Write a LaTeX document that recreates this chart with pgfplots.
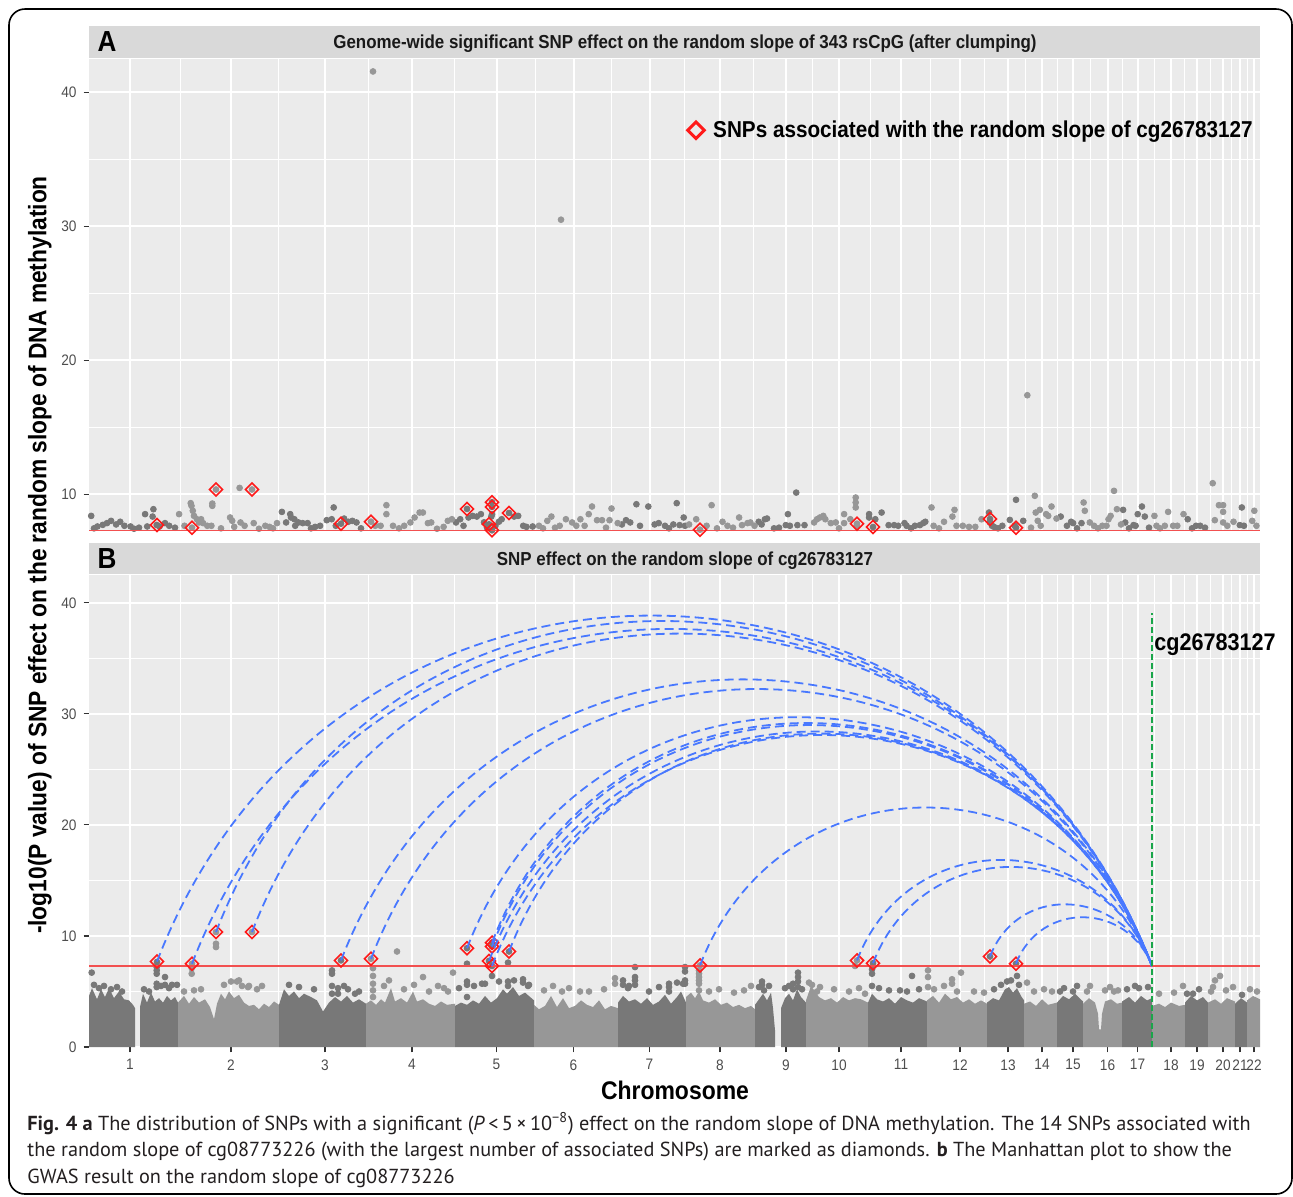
\documentclass[border=0pt]{standalone}
\usepackage{pgfplots}
\pgfplotsset{compat=1.18}
\usepackage{pgfplotstable}
\usepackage{fontspec}
\setmainfont{Liberation Sans}[FakeStretch=0.9]
\newfontfamily\capfont{PT Sans}

\definecolor{panelbg}{HTML}{EBEBEB}
\definecolor{stripbg}{HTML}{D9D9D9}
\definecolor{darkpt}{HTML}{787878}
\definecolor{lightpt}{HTML}{979797}
\definecolor{arcblue}{HTML}{4878FF}
\definecolor{vgreen}{HTML}{1AA64A}
\definecolor{hred}{HTML}{F25050}
\definecolor{dred}{HTML}{FF1A1A}
\definecolor{ticktxt}{HTML}{4D4D4D}
\definecolor{tickcol}{HTML}{333333}
\definecolor{capcol}{HTML}{231F20}

% x = position along the genome (same scale as the panels), y = -log10(P)
% SNPs linked to cg26783127 (diamonds)
\pgfplotstableread{
x y
68 7.7
103 7.5
127 10.35
163 10.35
252 7.8
282 7.95
378 8.9
400 7.75
403 9.4
403 9.05
403 7.3
420 8.6
611 7.35
768 7.8
784 7.55
901 8.15
927 7.5
}\snps

% panel A, odd chromosomes
\pgfplotstableread{
x y
2.2 8.38
5 7.45
8.4 7.59
13.8 7.71
18 7.84
22.1 8.01
27.1 7.74
31.2 7.94
35.4 7.64
41.6 7.59
45 7.42
50 7.5
56.1 8.51
58.2 7.59
63.6 8.33
64.4 8.88
67.7 7.70
70.6 7.59
76 7.84
80.2 7.64
86 7.5
192.9 8.68
197.1 7.89
201.2 8.51
202 8.26
205.4 8.13
206.2 7.64
209.5 7.89
213.7 7.84
218.6 7.84
222 7.45
226.1 7.56
231.1 7.64
237.7 8.06
242.7 8.13
244.7 9.01
246.8 7.64
252 7.8
255.1 8.18
259.3 7.94
263.4 8.01
267.5 7.89
272 7.45
367 7.89
371.2 8.13
374.5 7.64
378 8.9
379.5 8.26
383.6 8.38
387.8 8.33
391.9 8.51
395 7.9
398 7.5
400 7.75
402.3 8.33
403 9.4
403 9.05
403 7.3
403 8.5
406.4 7.64
410 7.95
412.7 8.13
420 8.6
425.1 8.33
429.2 8.38
434.2 7.64
437.5 7.56
443.7 7.59
532.9 7.74
537 8.06
541.2 7.89
547.4 9.25
551 7.64
559.3 9.08
565.6 7.74
569.7 7.84
576 7.64
580 7.45
584.3 7.74
587.7 9.33
590.6 7.69
594.7 8.26
596 7.64
669.7 7.94
672.6 7.74
675.9 8.13
678 8.18
685 7.45
690 7.5
696.8 7.69
698.9 8.51
700.9 7.64
707.2 10.12
708.4 7.69
715.5 7.69
780.1 8.51
780.1 8.26
784 7.55
786.3 8.13
792.6 8.63
799.6 7.69
805.1 7.69
809.2 7.64
815.5 7.84
817.6 7.64
822 7.45
825.9 7.64
830.9 7.69
834.2 7.84
836.3 7.94
900 8.63
900.9 7.89
901 8.15
903 7.64
905 7.56
909 7.45
913.3 7.64
920.8 8.08
925.8 7.64
927 9.58
927 7.5
934.2 8.01
971.7 8.33
977.9 7.64
982.1 7.94
984.1 7.84
988 7.45
992.5 7.84
1034.1 8.83
1036.2 7.89
1040 7.45
1044.5 7.69
1046.6 7.64
1048.7 8.51
1052.9 9.08
1055.8 8.33
1060 7.5
1098.7 8.13
1103 7.45
1107 7.64
1111.2 7.64
1116 7.5
1150.8 7.69
1152.8 9.01
1154.9 7.64
}\adark

% panel A, even chromosomes
\pgfplotstableread{
x y
90.1 8.51
95.5 7.64
101.7 9.33
102.5 9.13
103 7.5
103.8 8.76
105 8.38
107.9 8.13
110 7.89
112.1 8.13
114.1 7.84
118.3 7.64
122.4 7.64
123.3 9.13
123.3 9.30
127 10.35
132 7.45
141.1 8.26
143.2 8.01
145.2 7.56
150.6 10.47
151.5 7.89
155.6 7.64
163 10.35
164.7 7.84
170 7.42
176.3 7.64
180.5 7.56
184 7.45
188 7.84
282 7.95
284 41.57
286.2 7.64
291.6 7.64
297.4 9.18
297.4 8.51
304 7.64
310 7.45
315.2 7.64
321.4 7.89
325.6 8.26
330.6 8.63
333.9 8.63
338.9 7.84
342.2 7.89
348 7.42
354.6 7.56
358.8 8.01
362.9 8.13
450 7.64
454 7.45
458.3 8.01
462.4 8.33
466 7.5
470.7 7.64
472 30.5
476.9 8.13
483.1 7.89
487.3 7.64
491.4 8.13
495.6 7.64
499.7 8.51
503 9.08
508 8.06
513 8.06
517 7.5
520.5 8.06
522.5 8.93
528.7 7.84
600.1 7.74
607.2 8.13
611 7.35
617.6 7.64
622.6 9.18
628 7.45
633.5 7.94
638.5 7.64
644 7.5
650.1 8.26
653 7.69
658.5 7.84
661.4 7.89
665.5 7.64
725.1 7.89
728 8.13
730.9 8.26
734.3 8.38
736.3 8.13
741.8 7.84
746.8 7.89
750 7.45
755.1 8.51
755.1 7.84
761.3 8.13
766.7 9.75
766.7 9.38
766.7 9.01
767.6 7.64
768 7.8
842.5 9.01
844.6 7.64
850 7.45
855 7.94
863.4 8.33
865.5 8.83
867.5 7.64
873.8 7.64
880 7.56
886.3 7.56
892.5 8.13
938.3 17.39
942 7.5
945.8 9.88
946.7 8.63
948.7 8.01
950.8 8.83
951.7 7.64
957.1 8.51
959.2 8.38
962.5 9.08
967.5 8.18
994.6 9.38
995.8 8.76
1000.8 7.89
1005 7.64
1009 7.45
1013.3 7.64
1017.5 7.64
1019.5 8.13
1021.6 8.38
1025 10.25
1027.9 8.88
1032 7.74
1065.4 8.38
1067.5 7.64
1071 7.45
1075.8 7.64
1079.1 8.68
1084.1 7.64
1088.3 7.64
1094.5 8.51
1123.7 10.82
1125.8 8.06
1129.9 9.18
1134.1 9.18
1134.1 8.68
1134.1 7.89
1138.3 7.64
1144.5 7.94
1163.2 8.01
1165.3 8.76
1167.4 7.64
}\alight

% panel B, points standing above the bulk, odd chromosomes
\pgfplotstableread{
x y
2.7 6.7
5 5.6
10 5.3
15 5.5
22 5.2
28 5.4
33 5.0
55 5.2
60 5.0
67.7 7.2
67.7 6.9
67.7 6.6
67.7 5.7
67.7 5.4
68 7.66
72 5.5
76 6.3
76 5.6
80 5.3
83 5.6
88 5.6
200 5.6
210 5.4
225 5.2
243 6.9
243 6.6
243 5.5
243 4.8
249 5.3
249 4.8
252 7.8
255 5.5
259 5.2
266 4.8
270 5.0
370 5.3
378 8.9
378 7.5
378 5.9
378 5.6
378 4.5
385 5.5
393 5.7
396 5.7
400 7.75
403 9.4
403 9.05
403 7.3
403 6.4
410 5.9
419 7.6
419 5.9
419 5.5
420 8.6
425 6.0
434 6.1
434 5.8
439 5.5
440 5.6
534 6.0
534 5.6
539 5.3
540 5.5
546 7.2
546 6.3
546 6.0
546 5.6
560 5.0
570 5.4
580 5.7
580 5.4
580 5.0
588 5.8
594 5.7
596 7.2
596 6.8
596 6.0
596 5.7
670 5.4
673 5.9
673 5.6
675 5.1
680 5.5
696 5.3
700 5.5
704 5.7
704 5.2
709 6.7
709 6.3
709 5.9
709 5.4
713 5.2
783 7.0
783 6.6
783 5.5
784 7.55
790 5.3
800 5.1
811 5.1
818 5.0
823 6.4
830 5.2
901 8.15
905 5.2
912 5.6
918 5.9
922 6.0
927 7.5
928 6.4
930 5.6
971 5.0
975 5.3
984 5.0
988 5.5
1038 5.2
1046 5.5
1050 5.3
1059 5.4
1098 4.8
1104 4.8
1110 5.2
1153 4.7
}\bdark

% panel B, points standing above the bulk, even chromosomes
\pgfplotstableread{
x y
95 5.0
102.7 7.1
102.7 6.6
103 7.5
105 5.1
112 5.2
127 10.35
127 9.3
127 9.0
135 5.6
142 5.9
148 5.9
150 6.0
153 5.5
159 5.4
160 5.5
163 10.35
168 5.2
173 5.5
282 7.95
284 7.1
284 6.4
284 5.7
284 5.1
284 4.5
295 5.5
300 6.0
308 8.6
315 5.2
325 5.6
334 6.3
340 5.0
349 5.5
355 5.3
359 5.0
364 6.7
455 5.1
464 5.5
473 5.0
480 5.3
491 5.0
500 5.0
515 5.2
526 6.2
526 5.7
610 6.9
610 6.6
610 6.3
610 6.0
610 5.7
610 5.1
611 7.35
620 5.0
630 5.2
645 4.9
655 5.1
662 5.5
720 5.8
723 5.6
728 5.0
731 5.4
745 5.2
760 5.0
766 7.3
768 7.8
770 5.3
776 4.8
839 6.9
839 6.3
839 5.4
845 5.2
855 5.5
863 6.1
863 5.7
868 5.0
872 6.7
885 5.0
895 4.9
938 5.8
945 5.0
955 5.2
963 5.0
998 5.0
1001 5.5
1016 5.1
1021 5.4
1025 5.0
1029 5.1
1070 4.8
1085 4.9
1094 5.5
1122 5.0
1124 5.4
1126 6.0
1131 6.4
1137 5.1
1144 5.4
1161 5.2
1168 5.0
}\blight

\pgfplotstablegetrowsof{\snps}
\pgfmathtruncatemacro\nsnp{\pgfplotsretval-1}
\def\tx{1063}
\def\ty{7.3}

\pgfplotsset{
  panel/.style={
    scale only axis, width=585.5pt, height=236pt,
    xmin=0, xmax=1171,
    axis background/.style={fill=panelbg},
    axis line style={draw=none},
    grid=both,
    major grid style={white, line width=1pt},
    minor grid style={white, line width=0.5pt},
    xtick={41,142,236,323,407.5,484.5,560.5,631,697,750,812,871,919,953,984,1018.5,1048.5,1082,1108,1134,1151,1165},
    minor xtick={91.5,189,279.5,365.25,446,522.5,595.75,664,723.5,781,841.5,895,936,968.5,1001.25,1033.5,1065.25,1095,1121,1142.5,1158},
    ytick={10,20,30,40}, yticklabels={10,20,30,40},
    tick align=outside, major tick length=2.7pt, minor tick length=0pt,
    tick style={tickcol, line width=0.55pt},
    ytick pos=left, xtick pos=bottom,
    ticklabel style={font=\fontsize{7.6}{8}\selectfont, text=ticktxt},
    clip mode=individual,
  },
  pts/.style={only marks, mark=*, mark size=1.45pt, forget plot},
  dia/.style={only marks, mark=square, mark size=2.3pt, forget plot,
    mark options={rotate=45, draw=dred, fill=none, line width=0.8pt}},
  band/.style={fill=#1, draw=none, mark=none},
}

\begin{document}
\begin{tikzpicture}
\path[use as bounding box] (0pt,0pt) rectangle (646.5pt,-598pt);
\draw[line width=0.8pt, rounded corners=8pt] (4.5pt,-4.5pt) rectangle (646pt,-597pt);

% strips
\fill[stripbg] (44.5pt,-13pt) rectangle (630pt,-29pt);
\fill[stripbg] (44.5pt,-271.5pt) rectangle (630pt,-287pt);
\node[font=\fontsize{14.5}{16}\selectfont\bfseries] at (53.5pt,-20.8pt) {A};
\node[font=\fontsize{14.5}{16}\selectfont\bfseries] at (53.5pt,-279.3pt) {B};
\node[anchor=base, font=\fontsize{9.4}{10}\selectfont\bfseries, text=black!90] at (342.5pt,-24.2pt)
  {Genome-wide significant SNP effect on the random slope of 343 rsCpG (after clumping)};
\node[anchor=base, font=\fontsize{9.4}{10}\selectfont\bfseries, text=black!90] at (342.5pt,-282.7pt)
  {SNP effect on the random slope of cg26783127};

% panel A
\begin{axis}[panel, at={(44.5pt,-265.5pt)}, anchor=south west,
  ymin=7.25, ymax=42.5, minor ytick={15,25,35},
  xmajorticks=false, xticklabels={},
  legend style={at={(0.511,0.849)}, anchor=west, draw=none, fill=none,
    font=\fontsize{11.5}{12}\selectfont\bfseries, inner sep=0pt},
  legend cell align=left]
\addplot[pts, darkpt] table {\adark};
\addplot[pts, lightpt] table {\alight};
\addplot[hred, line width=0.8pt, forget plot] coordinates {(0,7.3) (1171,7.3)};
\addplot[dia] table {\snps};
\addlegendimage{only marks, mark=square, mark size=2.9pt,
  mark options={rotate=45, draw=dred, fill=none, line width=1.5pt}}
\addlegendentry{\hspace*{2.5pt}SNPs associated with the random slope of cg26783127}
\end{axis}

% panel B
\begin{axis}[panel, at={(44.5pt,-523.5pt)}, anchor=south west,
  ymin=0, ymax=42.5, ytick={0,10,20,30,40}, yticklabels={0,10,20,30,40},
  minor ytick={5,15,25,35},
  xticklabels={1,2,3,4,5,6,7,8,9,10,11,12,13,14,15,16,17,18,19,20,21,22}]
% bulk of the Manhattan plot, one block per chromosome
\addplot[band=darkpt] coordinates {(0,4.6) (3,5.3) (8,4.3) (12,5.2) (16,4.5) (20,5.3) (25,4.4) (30,5.0) (35,4.3) (40,4.2) (44,3.8) (46,3.5)} \closedcycle;
\addplot[band=darkpt] coordinates {(51,3.6) (54,4.8) (58,4.0) (62,4.9) (66,4.1) (70,4.4) (74,4.0) (78,4.6) (82,4.2) (86,4.5) (89,4.0)} \closedcycle;
\addplot[band=lightpt] coordinates {(89,4.0) (95,4.6) (100,3.9) (105,4.5) (110,4.0) (116,4.3) (121,3.6) (125,2.5) (128,3.9) (132,4.8) (136,4.3) (140,5.0) (145,4.4) (150,4.7) (155,4.0) (160,3.7) (165,3.8) (170,3.4) (175,3.9) (180,3.6) (185,4.1) (190,3.8)} \closedcycle;
\addplot[band=darkpt] coordinates {(190,3.8) (195,5.2) (200,4.6) (205,5.0) (210,4.4) (215,4.8) (222,4.5) (228,4.2) (234,3.2) (240,4.0) (246,4.5) (252,4.1) (258,4.6) (264,4.0) (270,4.3) (277,3.9)} \closedcycle;
\addplot[band=lightpt] coordinates {(277,3.9) (282,4.2) (287,3.8) (292,4.3) (296,4.0) (302,5.3) (306,4.1) (312,4.4) (318,4.0) (324,5.0) (328,4.1) (334,4.3) (340,3.9) (346,3.7) (352,4.1) (358,3.8) (366,3.9)} \closedcycle;
\addplot[band=darkpt] coordinates {(366,3.7) (372,4.0) (378,3.8) (384,4.2) (390,3.9) (396,4.6) (402,4.0) (408,4.4) (414,5.2) (418,4.8) (424,5.4) (430,4.6) (436,4.9) (445,4.2)} \closedcycle;
\addplot[band=lightpt] coordinates {(445,3.8) (450,3.4) (456,3.7) (462,4.6) (468,3.6) (474,4.4) (480,3.5) (486,3.7) (492,4.2) (498,3.8) (504,3.6) (510,4.2) (516,3.4) (522,3.7) (529,3.5)} \closedcycle;
\addplot[band=darkpt] coordinates {(529,4.0) (534,4.6) (540,4.1) (546,4.3) (552,3.9) (558,4.4) (564,3.8) (570,4.1) (576,4.7) (582,3.9) (588,4.5) (592,5.0) (597,4.0)} \closedcycle;
\addplot[band=lightpt] coordinates {(597,4.5) (602,4.9) (606,4.4) (610,5.0) (614,4.2) (620,4.0) (626,4.3) (632,3.8) (638,4.0) (644,3.6) (650,3.8) (656,3.5) (662,3.7) (666,3.4)} \closedcycle;
\addplot[band=darkpt] coordinates {(666,3.8) (670,4.3) (674,4.8) (678,4.2) (682,4.9) (684,3.5) (686,1.5)} \closedcycle;
\addplot[band=darkpt] coordinates {(692,3.5) (696,4.4) (700,4.8) (704,4.2) (708,5.2) (712,4.5) (717,4.0)} \closedcycle;
\addplot[band=lightpt] coordinates {(717,4.2) (722,5.5) (726,5.0) (730,4.5) (736,4.2) (742,4.4) (748,4.0) (754,4.5) (760,4.2) (766,4.4) (772,4.3) (779,4.0)} \closedcycle;
\addplot[band=darkpt] coordinates {(779,4.0) (783,4.8) (788,4.3) (794,4.1) (800,4.4) (806,3.9) (812,4.5) (818,4.2) (824,4.0) (830,4.4) (838,4.1)} \closedcycle;
\addplot[band=lightpt] coordinates {(838,4.2) (844,4.6) (850,4.0) (856,4.8) (862,4.3) (868,4.5) (874,4.0) (880,4.3) (886,3.9) (892,4.2) (898,3.9)} \closedcycle;
\addplot[band=darkpt] coordinates {(898,4.0) (904,4.4) (910,4.2) (916,5.2) (920,5.4) (924,4.9) (928,5.3) (932,4.6) (935,4.2)} \closedcycle;
\addplot[band=lightpt] coordinates {(935,3.9) (941,4.1) (947,3.7) (953,4.3) (959,3.8) (968,4.0)} \closedcycle;
\addplot[band=darkpt] coordinates {(968,4.0) (974,4.6) (980,4.3) (986,4.8) (994,4.1)} \closedcycle;
\addplot[band=lightpt] coordinates {(994,3.9) (1000,4.4) (1006,4.0) (1009,3.0) (1010,1.6) (1012,1.6) (1013,3.0) (1016,4.1) (1022,4.3) (1028,3.9) (1033,4.0)} \closedcycle;
\addplot[band=darkpt] coordinates {(1033,4.1) (1040,4.5) (1046,4.0) (1052,4.6) (1058,4.2) (1063,4.4)} \closedcycle;
\addplot[band=lightpt] coordinates {(1063,3.7) (1070,3.9) (1076,3.6) (1082,4.0) (1090,3.7) (1096,3.8)} \closedcycle;
\addplot[band=darkpt] coordinates {(1096,4.0) (1102,4.6) (1108,4.2) (1114,4.5) (1119,4.0)} \closedcycle;
\addplot[band=lightpt] coordinates {(1119,4.0) (1126,4.3) (1132,3.9) (1138,4.4) (1146,4.1)} \closedcycle;
\addplot[band=darkpt] coordinates {(1146,3.9) (1152,4.4) (1158,4.0)} \closedcycle;
\addplot[band=lightpt] coordinates {(1158,4.2) (1164,4.6) (1171,4.3)} \closedcycle;
\addplot[pts, darkpt] table {\bdark};
\addplot[pts, lightpt] table {\blight};
\addplot[hred, line width=0.8pt] coordinates {(0,7.3) (1171,7.3)};
\addplot[dia] table {\snps};
% links from each SNP to the CpG site
\foreach \i in {0,...,\nsnp}{
  \pgfplotstablegetelem{\i}{x}\of{\snps}\let\xa\pgfplotsretval
  \pgfplotstablegetelem{\i}{y}\of{\snps}\let\ya\pgfplotsretval
  \pgfmathsetmacro\cc{\tx-\xa}
  \pgfmathsetmacro\xb{\xa+0.18*\cc}
  \pgfmathsetmacro\yb{\ya+0.042*\cc}
  \pgfmathsetmacro\xc{\tx-0.18*\cc}
  \pgfmathsetmacro\yc{\ty+0.042*\cc}
  \edef\temp{\noexpand\draw[arcblue, line width=0.9pt, dash pattern=on 4.5pt off 2.5pt]
    (axis cs:\xa,\ya) .. controls (axis cs:\xb,\yb) and (axis cs:\xc,\yc) .. (axis cs:\tx,\ty);}
  \temp
}
\addplot[vgreen, line width=0.8pt, dash pattern=on 3pt off 1.5pt] coordinates {(1063,0) (1063,39.1)};
\node[anchor=west, inner sep=1pt, font=\fontsize{12}{13}\selectfont\bfseries] at (axis cs:1063,36.2) {cg26783127};
\end{axis}

% axis titles
\node[rotate=90, font=\fontsize{12.65}{14}\selectfont\bfseries] at (20pt,-277.5pt)
  {-log10(P value) of SNP effect on the random slope of DNA methylation};
\node[font=\fontsize{12.75}{14}\selectfont\bfseries] at (337.5pt,-545pt) {Chromosome};

% caption
\begin{scope}[every node/.style={anchor=base west, inner sep=0pt, text=capcol,
    font=\capfont\fontsize{10.15}{11}\selectfont}]
\node at (13.5pt,-565pt) {\textbf{Fig. 4 a} The distribution of SNPs with a significant (\textit{P}\,<\,5\,×\,10\textsuperscript{−8}) effect on the random slope of DNA methylation. The 14 SNPs associated with};
\node at (13.5pt,-578.3pt) {the random slope of cg08773226 (with the largest number of associated SNPs) are marked as diamonds. \textbf{b} The Manhattan plot to show the};
\node at (13.5pt,-591.6pt) {GWAS result on the random slope of cg08773226};
\end{scope}
\end{tikzpicture}
\end{document}
